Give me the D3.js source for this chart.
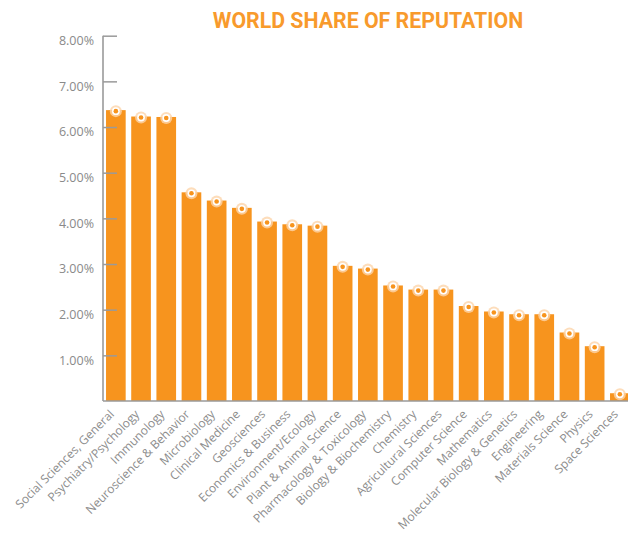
<!DOCTYPE html>
<html>
<head>
<meta charset="utf-8">
<script src="https://cdn.jsdelivr.net/npm/d3@7/dist/d3.min.js"></script>
<style>
  html, body { margin: 0; padding: 0; background: #fff; }
  svg { display: block; }
</style>
</head>
<body>
<svg id="chart" width="628" height="533"></svg>
<script>
const title = "WORLD SHARE OF REPUTATION";
const categories = [
  "Social Sciences, General", "Psychiatry/Psychology", "Immunology",
  "Neuroscience & Behavior", "Microbiology", "Clinical Medicine",
  "Geosciences", "Economics & Business", "Environment/Ecology",
  "Plant & Animal Science", "Pharmacology & Toxicology", "Biology & Biochemistry",
  "Chemistry", "Agricultural Sciences", "Computer Science", "Mathematics",
  "Molecular Biology & Genetics", "Engineering", "Materials Science",
  "Physics", "Space Sciences"
];
const values = [6.37, 6.23, 6.22, 4.57, 4.39, 4.23, 3.93, 3.87, 3.84, 2.96, 2.90,
                2.53, 2.44, 2.44, 2.08, 1.96, 1.90, 1.90, 1.50, 1.20, 0.17];
const yTicks = [1, 2, 3, 4, 5, 6, 7, 8];

const svg = d3.select("#chart");
const orange = "#F7941E";
const gray = "#9a9a9a";

const x = d3.scaleBand()
  .domain(categories)
  .range([103, 632.7])
  .paddingInner(0.22)
  .paddingOuter(0.12);

const y = d3.scaleLinear().domain([0, 8]).range([401, 35.7]);

// title
svg.append("text")
  .attr("x", 368).attr("y", 28)
  .attr("text-anchor", "middle")
  .attr("font-family", "Roboto, 'Liberation Sans', sans-serif")
  .attr("font-weight", 700)
  .attr("font-size", 21.3)
  .attr("fill", "#F89A2C")
  .text(title);

// bars
svg.append("g").selectAll("rect")
  .data(values)
  .join("rect")
  .attr("x", (d, i) => x(categories[i]))
  .attr("width", x.bandwidth())
  .attr("y", d => y(d))
  .attr("height", d => y(0) - y(d))
  .attr("fill", orange);

// markers
const mk = svg.append("g").selectAll("g")
  .data(values)
  .join("g")
  .attr("transform", (d, i) => `translate(${x(categories[i]) + x.bandwidth() / 2},${y(d) + 1})`);
mk.append("circle").attr("r", 6).attr("fill", "#FCD5AA").attr("opacity", 0.8);
mk.append("circle").attr("r", 3.9).attr("fill", "#fff");
mk.append("circle").attr("r", 2.3).attr("fill", orange);

// y axis
const yAxis = d3.axisRight(y)
  .tickValues(yTicks)
  .tickSize(14)
  .tickFormat("");
const gy = svg.append("g").attr("transform", "translate(103,0)").call(yAxis);
gy.select(".domain").remove();
gy.selectAll(".tick line").attr("stroke", gray).attr("stroke-width", 1.5);
svg.append("line")
  .attr("x1", 103).attr("x2", 103)
  .attr("y1", y(8)).attr("y2", y(0))
  .attr("stroke", gray).attr("stroke-width", 1.6);

// y tick labels
svg.append("g").selectAll("text")
  .data(yTicks)
  .join("text")
  .attr("x", 94)
  .attr("y", d => y(d) + 5)
  .attr("dy", "0.35em")
  .attr("text-anchor", "end")
  .attr("font-family", "'Open Sans', sans-serif")
  .attr("font-size", 12.5)
  .attr("fill", "#8a8a8a")
  .text(d => d3.format(".2f")(d) + "%");

// x axis baseline
const xAxis = d3.axisBottom(x).tickSize(0).tickFormat("");
const gx = svg.append("g").attr("transform", `translate(0,${y(0)})`).call(xAxis);
gx.select(".domain").remove();
svg.append("line")
  .attr("x1", 103).attr("x2", 628)
  .attr("y1", y(0)).attr("y2", y(0))
  .attr("stroke", gray).attr("stroke-width", 1.6);

// category labels
svg.append("g").selectAll("text")
  .data(categories)
  .join("text")
  .attr("transform", d => `translate(${x(d) + x.bandwidth() / 2 - 1},${y(0) + 14}) rotate(-45)`)
  .attr("text-anchor", "end")
  .attr("font-family", "'Open Sans', sans-serif")
  .attr("font-size", 12)
  .attr("fill", "#8c8c8c")
  .text(d => d);
</script>
</body>
</html>
